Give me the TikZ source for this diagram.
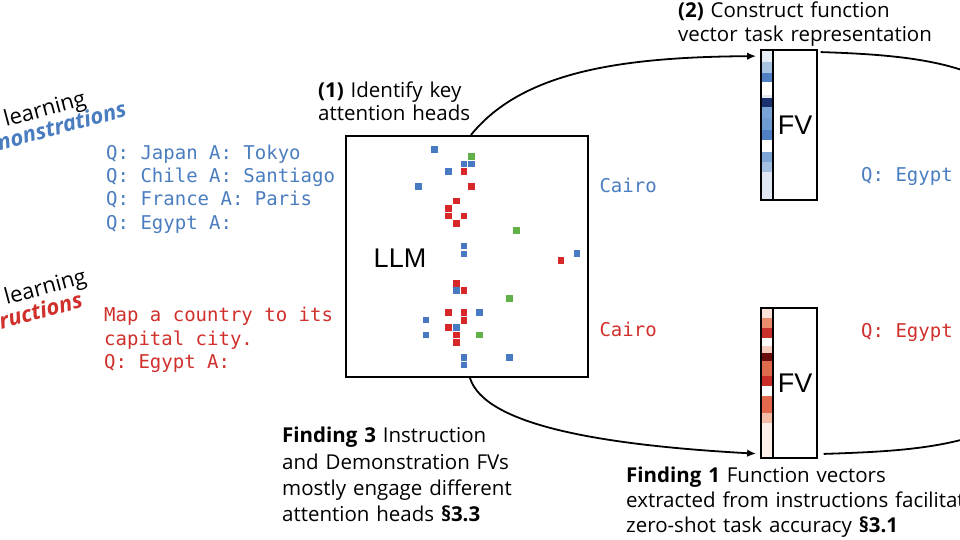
\documentclass[tikz,border=0pt]{standalone}
\usepackage{fontspec}
\setmainfont{Open Sans}
\newfontfamily\monofont{DejaVu Sans Mono}
\newfontfamily\helvfont{Liberation Sans}
\usetikzlibrary{arrows.meta}

\definecolor{tblue}{RGB}{74,125,192}
\definecolor{tred}{RGB}{208,48,44}
\definecolor{hblue}{RGB}{72,122,196}
\definecolor{hred}{RGB}{214,40,40}
\definecolor{hgreen}{RGB}{98,176,72}
\definecolor{b1}{HTML}{E6EDF6}
\definecolor{b2}{HTML}{A9C3E2}
\definecolor{b3}{HTML}{4E80C2}
\definecolor{b4}{HTML}{E3EAF4}
\definecolor{b5}{HTML}{1C2F6E}
\definecolor{b6}{HTML}{7BA4D6}
\definecolor{b7}{HTML}{6E9BD1}
\definecolor{b8}{HTML}{4F80C3}
\definecolor{b9}{HTML}{7DA5D6}
\definecolor{b10}{HTML}{A3C0E2}
\definecolor{b11}{HTML}{DFE8F4}
\definecolor{r1}{HTML}{FBE3DA}
\definecolor{r2}{HTML}{E98C6C}
\definecolor{r3}{HTML}{C8302B}
\definecolor{r4}{HTML}{F7CBBD}
\definecolor{r5}{HTML}{6A0C0C}
\definecolor{r6}{HTML}{E06A4C}
\definecolor{r7}{HTML}{C92D27}
\definecolor{r8}{HTML}{E2694C}
\definecolor{r9}{HTML}{F4BBA5}
\definecolor{r10}{HTML}{FDEEE8}

\begin{document}
\begin{tikzpicture}[x=1pt,y=-1pt,
  monoline/.style={font=\monofont\fontsize{19}{23.3}\selectfont, inner sep=0pt, anchor=base west},
  lab/.style={font=\fontsize{20.5}{#1}\selectfont, inner sep=0pt, align=left, text width=420pt, anchor=base west},
  rotlab/.style={font=\fontsize{22}{24}\selectfont, inner sep=0pt, rotate=15},
  llmbox/.style={draw, line width=2.2pt, inner sep=0pt},
  fvbox/.style={draw, line width=1.8pt, inner sep=0pt, font=\helvfont\fontsize{27}{27}\selectfont},
  stripbox/.style={draw, line width=1.8pt, inner sep=0pt, minimum width=11.7pt, minimum height=150pt},
  conn/.style={line width=1.8pt, line cap=round},
  arr/.style={conn, -{Latex[length=9pt,width=7.5pt]}, shorten >=4pt},
]
\useasboundingbox (0,0) rectangle (960,540);

% rotated side labels
\node[rotlab, anchor=base west] (lrn1) at (6,127) {learning};
\node[rotlab, anchor=base east, text=tblue, font=\fontsize{22}{24}\selectfont\bfseries\itshape] (dem) at (128,116) {demonstrations};
\node[rotlab, anchor=base west] (lrn2) at (6.5,305) {learning};
\node[rotlab, anchor=base east, text=tred, font=\fontsize{22}{24}\selectfont\bfseries\itshape] (ins) at (84,307) {instructions};

% prompts (demonstrations)
\node[monoline, text=tblue] (demo1) at (106,159.3) {Q: Japan A: Tokyo};
\node[monoline, text=tblue] (demo2) at (106,182.6) {Q: Chile A: Santiago};
\node[monoline, text=tblue] (demo3) at (106,205.9) {Q: France A: Paris};
\node[monoline, text=tblue] (demo4) at (106,229.2) {Q: Egypt A:};
% prompts (instructions)
\node[monoline, text=tred] (inst1) at (104,321.7) {Map a country to its};
\node[monoline, text=tred] (inst2) at (104,345) {capital city.};
\node[monoline, text=tred] (inst3) at (104,368.3) {Q: Egypt A:};

% LLM box
\node[llmbox, minimum width=242pt, minimum height=241pt] (llm) at (467,256.5) {};
\node[font=\helvfont\fontsize{27}{27}\selectfont, inner sep=0pt] (llmtxt) at (400,258) {LLM};

% attention heads heatmap
\foreach \px/\py in {434.3/149.3, 464/164, 471.7/164, 448.7/171.7, 418.3/186.7, 464/246, 464/254, 577/253.3, 456.3/290.7, 479.3/312.7, 426/320, 456.3/327.7, 426/335, 464/357.7, 464/365, 509.3/357.7}
  \fill[hblue] (\px-3.4,\py-3.4) rectangle ++(6.8,6.8);
\foreach \px/\py in {464/171.7, 471.7/186.7, 456.3/201, 448.7/208.3, 448.7/216, 464/216, 456.3/223.3, 561/260.7, 456.3/283.3, 464/290.7, 448.7/312.7, 464/312.7, 464/320.7, 448.7/327.7, 456.3/335, 456.3/342.7}
  \fill[hred] (\px-3.4,\py-3.4) rectangle ++(6.8,6.8);
\foreach \px/\py in {471.7/156.7, 516.7/230.7, 509.3/298.3, 479.3/335}
  \fill[hgreen] (\px-3.4,\py-3.4) rectangle ++(6.8,6.8);

% outputs
\node[monoline, text=tblue] (cairo1) at (599.3,192.7) {Cairo};
\node[monoline, text=tred] (cairo2) at (599.3,336) {Cairo};
\node[monoline, text=tblue] (egy1) at (861,181.7) {Q: Egypt};
\node[monoline, text=tred] (egy2) at (861,337.3) {Q: Egypt};

% top FV (demonstrations)
\foreach \ya/\yb/\c in {50/61.7/b1, 61.7/73.3/b2, 73.3/81.7/b3, 95/98.3/b4, 98.3/106.7/b5, 106.7/118.3/b6, 118.3/130/b7, 130/140/b8, 151.7/161.7/b9, 161.7/171.7/b10, 171.7/200/b11}
  \fill[\c] (761,\ya) rectangle (772.7,\yb);
\node[stripbox] (stript) at (766.85,125) {};
\node[fvbox, minimum width=44.6pt, minimum height=150pt] (fvd) at (795,125) {FV};

% bottom FV (instructions)
\foreach \ya/\yb/\c in {308/318/r1, 318/328/r2, 328/338/r3, 346.3/353/r4, 353/361.3/r5, 361.3/376.3/r6, 376.3/386.3/r7, 396.3/413/r8, 413/423/r9, 423/458/r10}
  \fill[\c] (761,\ya) rectangle (772.7,\yb);
\node[stripbox] (stripi) at (766.85,383) {};
\node[fvbox, minimum width=44.6pt, minimum height=150pt] (fvi) at (795,383) {FV};

% connectors
\coordinate (outt) at (975,75);
\coordinate (outb) at (975,436);
\draw[arr] ([xshift=4pt]llm.north) .. controls (522,72) and (620,57) .. ([yshift=-7pt]stript.north west);
\draw[arr] ([xshift=3pt]llm.south) .. controls (485,425) and (600,445) .. ([yshift=5pt]stripi.south west);
\draw[conn] ([xshift=3pt,yshift=-3pt]fvd.north east) .. controls (880,54) and (935,58) .. (outt);
\draw[conn] ([xshift=6pt,yshift=5pt]fvi.south east) .. controls (880,452) and (930,450) .. (outb);

% captions
\node[lab=23.3pt] (step1) at (318,97.3) {\textbf{(1)} Identify key\\attention heads};
\node[lab=24.3pt] (step2) at (678,17.3) {\textbf{(2)} Construct function\\vector task representation};
\node[lab=26.3pt] (find3) at (282,442.7) {\textbf{Finding 3} Instruction\\and Demonstration FVs\\mostly engage different\\attention heads \textbf{§3.3}};
\node[lab=25.2pt] (find1) at (626,482.3) {\textbf{Finding 1} Function vectors\\extracted from instructions facilitate\\zero-shot task accuracy \textbf{§3.1}};
\end{tikzpicture}
\end{document}
